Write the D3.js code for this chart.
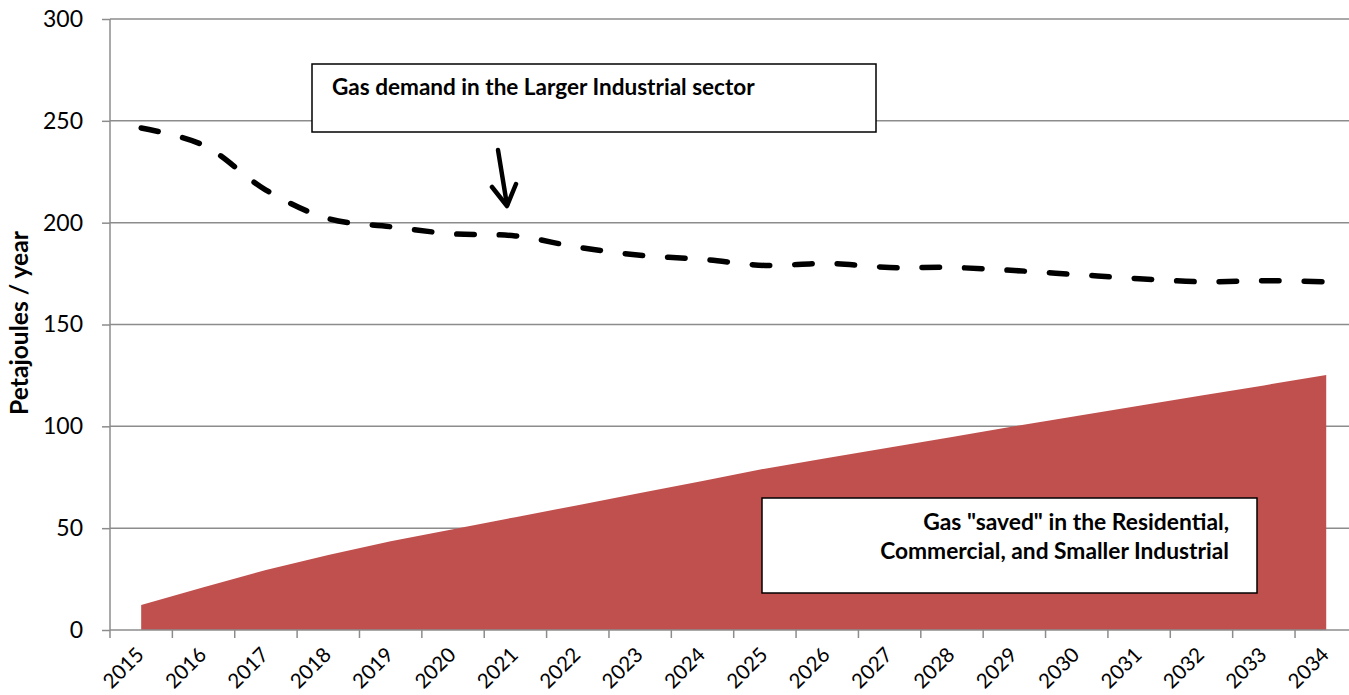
<!DOCTYPE html>
<html>
<head>
<meta charset="utf-8">
<script src="https://d3js.org/d3.v7.min.js"></script>
<style>
  body {
    margin: 0;
    background: #fff;
    font-family: Lato, "Open Sans", Arial, sans-serif;
  }
  .grid line, .axis line, .axis path {
    stroke: #8c8c8c;
    stroke-width: 1.5px;
  }
  .axis text {
    font-family: Lato, "Open Sans", Arial, sans-serif;
    fill: #000;
  }
  .yaxis text { font-size: 23px; }
  .xaxis text { font-size: 20.5px; }
  .note {
    font-weight: bold;
    fill: #000;
  }
</style>
</head>
<body>
<div id="chart"></div>

<script>

// categories
var years = ["2015", "2016", "2017", "2018", "2019", "2020", "2021", "2022", "2023", "2024",
             "2025", "2026", "2027", "2028", "2029", "2030", "2031", "2032", "2033", "2034"];

// dashed line: gas demand, larger industrial (PJ / year)
var largerIndustrial = [246.5, 238, 216, 202, 198, 194.5, 193.5, 188, 184, 182,
                        179, 180, 178, 178, 176.5, 174.5, 172.5, 171, 171.5, 171];

// red area: gas saved in residential, commercial, smaller industrial (PJ / year)
var gasSaved = [12.3, 21, 29.5, 36.8, 43.6, 49.5, 55.4, 61.3, 67.3, 73.2,
                79.2, 84.4, 89.6, 94.8, 100, 105.1, 110.1, 115.1, 120.1, 125.2];

var yTicks = [0, 50, 100, 150, 200, 250, 300];

var yTitle = "Petajoules / year";
var noteDemand = "Gas demand in the Larger Industrial sector";
var noteSaved = ["Gas \"saved\" in the Residential,", "Commercial, and Smaller Industrial"];

// dimensions
var W = 1349, H = 695;
var margin = {top: 19, left: 110},
    plotW = 1247.4,   // runs off the right edge like the original
    plotH = 611;

var svg = d3.select("#chart")
  .append("svg")
    .attr("width", W)
    .attr("height", H);

var g = svg.append("g")
    .attr("transform", "translate(" + margin.left + "," + margin.top + ")");

var x = d3.scaleBand()
    .domain(years)
    .range([0, plotW]);

var y = d3.scaleLinear()
    .domain([0, 300])
    .range([plotH, 0]);

function cx(d) { return x(d) + x.bandwidth() / 2; }

// gridlines
g.append("g")
    .attr("class", "grid")
  .selectAll("line")
  .data(yTicks.filter(function(d) { return d > 0; }))
  .enter().append("line")
    .attr("x1", 0)
    .attr("x2", plotW)
    .attr("y1", function(d) { return y(d); })
    .attr("y2", function(d) { return y(d); });

// red area
var area = d3.area()
    .x(function(d, i) { return cx(years[i]); })
    .y0(y(0))
    .y1(function(d) { return y(d); });

g.append("path")
    .datum(gasSaved)
    .attr("fill", "#c0504d")
    .attr("d", area);

// y axis
var yAxis = g.append("g")
    .attr("class", "axis yaxis")
    .call(d3.axisLeft(y).tickValues(yTicks).tickSize(8).tickPadding(19).tickFormat(d3.format("d")));
yAxis.attr("font-family", null).attr("font-size", null);
yAxis.select(".domain").attr("d", "M0," + plotH + "V0");

// x axis line + boundary ticks
var xAxis = g.append("g")
    .attr("class", "axis xaxis")
    .attr("transform", "translate(0," + plotH + ")");

xAxis.append("line")
    .attr("x1", 0).attr("x2", plotW);

xAxis.selectAll(".tk")
  .data(years.concat(["end"]))
  .enter().append("line")
    .attr("class", "tk")
    .attr("x1", function(d, i) { return i * x.step(); })
    .attr("x2", function(d, i) { return i * x.step(); })
    .attr("y1", 0)
    .attr("y2", 8);

xAxis.selectAll("text")
  .data(years)
  .enter().append("text")
    .attr("text-anchor", "end")
    .attr("transform", function(d) { return "translate(" + (cx(d) + 4) + ",26) rotate(-45)"; })
    .text(function(d) { return d; });

// dashed demand line
var line = d3.line()
    .x(function(d, i) { return cx(years[i]); })
    .y(function(d) { return y(d); })
    .curve(d3.curveCatmullRom.alpha(0.5));

g.append("path")
    .datum(largerIndustrial)
    .attr("fill", "none")
    .attr("stroke", "#000")
    .attr("stroke-width", 5.5)
    .attr("stroke-linecap", "round")
    .attr("stroke-dasharray", "17.5,25")
    .attr("d", line);

// fit bold text to a measured width
function fitText(sel, width, size) {
  sel.style("font-size", size + "px");
  var len = sel.node().getComputedTextLength();
  sel.style("font-size", (size * width / len) + "px");
  return sel;
}

// y title
var yt = svg.append("text")
    .attr("class", "note")
    .attr("text-anchor", "middle")
    .attr("transform", "translate(28,323) rotate(-90)")
    .text(yTitle);
fitText(yt, 184, 19);

// annotation: demand
svg.append("rect")
    .attr("x", 312).attr("y", 64)
    .attr("width", 564).attr("height", 68)
    .attr("fill", "#fff")
    .attr("stroke", "#000")
    .attr("stroke-width", 1.5);

var t1 = svg.append("text")
    .attr("class", "note")
    .attr("x", 332).attr("y", 95)
    .text(noteDemand);
fitText(t1, 423, 19);

// arrow
svg.append("line")
    .attr("x1", 498).attr("y1", 150)
    .attr("x2", 507).attr("y2", 205)
    .attr("stroke", "#000")
    .attr("stroke-width", 4.5)
    .attr("stroke-linecap", "round");
svg.append("path")
    .attr("d", "M492,187 L507,206 L516,184")
    .attr("fill", "none")
    .attr("stroke", "#000")
    .attr("stroke-width", 4.5)
    .attr("stroke-linecap", "round")
    .attr("stroke-linejoin", "round");

// annotation: saved
svg.append("rect")
    .attr("x", 762).attr("y", 498)
    .attr("width", 495).attr("height", 95)
    .attr("fill", "#fff")
    .attr("stroke", "#000")
    .attr("stroke-width", 1.5);

var s1 = svg.append("text")
    .attr("class", "note")
    .attr("text-anchor", "end")
    .attr("x", 1229).attr("y", 530)
    .text(noteSaved[0]);
fitText(s1, 306, 19);

var s2 = svg.append("text")
    .attr("class", "note")
    .attr("text-anchor", "end")
    .attr("x", 1229).attr("y", 559)
    .text(noteSaved[1]);
fitText(s2, 349, 19);

</script>
</body>
</html>
